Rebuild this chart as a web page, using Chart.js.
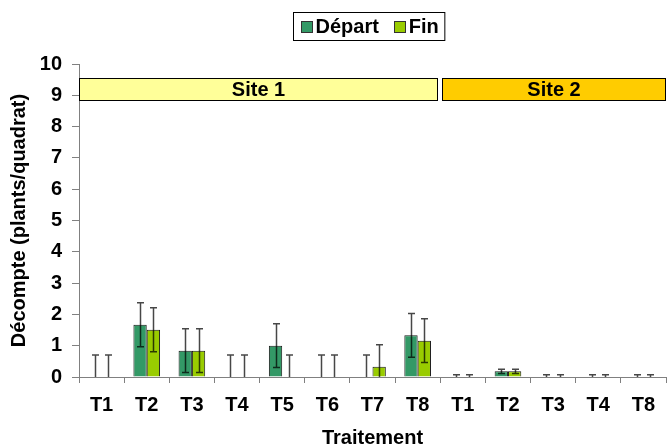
<!DOCTYPE html>
<html lang="fr">
<head>
<meta charset="utf-8">
<title>Décompte par traitement</title>
<script src="https://cdn.jsdelivr.net/npm/chart.js@4/dist/chart.umd.min.js"></script>
<style>
  html, body { margin: 0; padding: 0; background: #ffffff; }
  canvas { display: block; }
</style>
</head>
<body>
<canvas id="chart" width="667" height="446"></canvas>
<script>
// Treatments, site 1 then site 2
const categories = ['T1', 'T2', 'T3', 'T4', 'T5', 'T6', 'T7', 'T8', 'T1', 'T2', 'T3', 'T4', 'T8'];

// Mean counts (plants/quadrat)
const departValues = [0, 1.67, 0.84, 0, 1.00, 0, 0, 1.33, 0, 0.18, 0, 0, 0];
const finValues    = [0, 1.51, 0.84, 0, 0, 0, 0.33, 1.16, 0, 0.18, 0, 0, 0];

// Error half-widths
const departErrors = [0.70, 0.70, 0.70, 0.70, 0.70, 0.70, 0.70, 0.70, 0.07, 0.07, 0.07, 0.07, 0.07];
const finErrors    = [0.70, 0.70, 0.70, 0.70, 0.70, 0.70, 0.70, 0.70, 0.07, 0.07, 0.07, 0.07, 0.07];

const seriesNames = ['Départ', 'Fin'];

// Site groups: first and last category index of each
const siteNames = ['Site 1', 'Site 2'];
const siteFirst = [0, 8];
const siteLast  = [7, 12];
// Vertical extent of the site banners (axis units)
const siteBand = [8.86, 9.56];

const FONT = '"Liberation Sans", Arial, Helvetica, sans-serif';
const COLORS = ['#339966', '#99CC00'];
const SITE_COLORS = ['#FFFF99', '#FFCC00'];
const AXIS_GREY = '#808080';

const errorSets = [departErrors, finErrors];

// Error bars on top of every bar
const errorBars = {
  id: 'errorBars',
  afterDatasetsDraw(chart) {
    const { ctx, scales: { y } } = chart;
    ctx.save();
    ctx.strokeStyle = 'rgba(0,0,0,0.72)';
    ctx.lineWidth = 1.5;
    chart.data.datasets.forEach((ds, i) => {
      const meta = chart.getDatasetMeta(i);
      const errs = errorSets[i];
      meta.data.forEach((bar, j) => {
        const v = ds.data[j];
        const e = errs[j];
        const hi = v + e;
        const lo = Math.max(0, v - e);
        const x = Math.round(bar.x) + 0.5;
        const yHi = y.getPixelForValue(hi);
        const yLo = y.getPixelForValue(lo);
        ctx.beginPath();
        ctx.moveTo(x, yLo);
        ctx.lineTo(x, yHi);
        ctx.moveTo(x - 3.5, yHi);
        ctx.lineTo(x + 3.5, yHi);
        if (lo > 0) {
          ctx.moveTo(x - 3.5, yLo);
          ctx.lineTo(x + 3.5, yLo);
        }
        ctx.stroke();
      });
    });
    ctx.restore();
  }
};

// Site banners across the top of the plot
const siteBanners = {
  id: 'siteBanners',
  afterDatasetsDraw(chart) {
    const { ctx, scales: { x, y } } = chart;
    const step = (x.right - x.left) / categories.length;
    const top = y.getPixelForValue(siteBand[1]);
    const bottom = y.getPixelForValue(siteBand[0]);
    ctx.save();
    siteNames.forEach((name, k) => {
      let left = x.getPixelForValue(siteFirst[k]) - step / 2;
      let right = x.getPixelForValue(siteLast[k]) + step / 2;
      if (k > 0) left += 1.5;
      if (k < siteNames.length - 1) right -= 2.5;
      left = Math.round(left) + 0.5;
      right = Math.round(right) - 0.5;
      ctx.fillStyle = SITE_COLORS[k];
      ctx.fillRect(left, Math.round(top) + 0.5, right - left, Math.round(bottom) - Math.round(top));
      ctx.strokeStyle = '#000000';
      ctx.lineWidth = 1;
      ctx.strokeRect(left, Math.round(top) + 0.5, right - left, Math.round(bottom) - Math.round(top));
      ctx.fillStyle = '#000000';
      ctx.font = 'bold 20px ' + FONT;
      ctx.textAlign = 'center';
      ctx.textBaseline = 'middle';
      ctx.fillText(name, (left + right) / 2, (top + bottom) / 2 + 2);
    });
    ctx.restore();
  }
};

// Boxed legend centred over the plot
const boxedLegend = {
  id: 'boxedLegend',
  afterDraw(chart) {
    const { ctx, chartArea } = chart;
    ctx.save();
    ctx.font = 'bold 20px ' + FONT;
    const sw = 11, padL = 7, padR = 6, gapText = 4, gapItem = 15;
    const items = chart.data.datasets.map((ds) => ({
      label: ds.label, color: ds.backgroundColor, w: ctx.measureText(ds.label).width
    }));
    let total = padL + padR;
    items.forEach((it, i) => { total += sw + gapText + it.w + (i ? gapItem : 0); });
    const boxTop = 12.5, boxH = 28;
    let bx = Math.round((chartArea.left + chartArea.right) / 2 - total / 2) - 3.5;
    ctx.fillStyle = '#ffffff';
    ctx.fillRect(bx, boxTop, total, boxH);
    ctx.strokeStyle = '#000000';
    ctx.lineWidth = 1;
    ctx.strokeRect(bx, boxTop, total, boxH);
    let cx = bx + padL;
    const cy = boxTop + boxH / 2;
    items.forEach((it, i) => {
      if (i) cx += gapItem;
      ctx.fillStyle = it.color;
      ctx.fillRect(Math.round(cx) + 0.5, Math.round(cy - sw / 2) + 0.5, sw, sw);
      ctx.strokeStyle = '#333333';
      ctx.strokeRect(Math.round(cx) + 0.5, Math.round(cy - sw / 2) + 0.5, sw, sw);
      cx += sw + gapText;
      ctx.fillStyle = '#000000';
      ctx.textAlign = 'left';
      ctx.textBaseline = 'middle';
      ctx.fillText(it.label, cx, cy + 1);
      cx += it.w;
    });
    ctx.restore();
  }
};

const tickFont = { family: FONT, size: 20, weight: 'bold' };

new Chart(document.getElementById('chart'), {
  type: 'bar',
  data: {
    labels: categories,
    datasets: [
      {
        label: seriesNames[0],
        data: departValues,
        backgroundColor: COLORS[0],
        borderColor: '#1a1a1a',
        borderWidth: 1,
        categoryPercentage: 0.59,
        barPercentage: 1.0
      },
      {
        label: seriesNames[1],
        data: finValues,
        backgroundColor: COLORS[1],
        borderColor: '#1a1a1a',
        borderWidth: 1,
        categoryPercentage: 0.59,
        barPercentage: 1.0
      }
    ]
  },
  options: {
    responsive: false,
    animation: false,
    events: [],
    layout: { padding: { top: 64, right: 1, left: 0, bottom: 0 } },
    plugins: {
      legend: { display: false },
      tooltip: { enabled: false }
    },
    scales: {
      x: {
        grid: { offset: true, drawOnChartArea: false, drawTicks: true, tickLength: 6, color: AXIS_GREY },
        border: { color: AXIS_GREY, width: 1 },
        ticks: { font: tickFont, color: '#000000', padding: 10, maxRotation: 0, autoSkip: false },
        title: {
          display: true, text: 'Traitement', color: '#000000',
          font: { family: FONT, size: 20, weight: 'bold', lineHeight: 0.8 },
          padding: { top: 0, bottom: 0 }
        },
        afterFit(scale) { scale.height = 69; }
      },
      y: {
        min: 0,
        max: 10,
        grid: { drawOnChartArea: false, drawTicks: true, tickLength: 7, color: AXIS_GREY },
        border: { color: AXIS_GREY, width: 1 },
        ticks: { stepSize: 1, font: tickFont, color: '#000000', padding: 10 },
        title: {
          display: true, text: 'Décompte (plants/quadrat)', color: '#000000',
          font: { family: FONT, size: 20, weight: 'bold', lineHeight: 1 },
          padding: { top: 9, bottom: 0 }
        },
        afterFit(scale) { scale.width = 79; }
      }
    }
  },
  plugins: [siteBanners, errorBars, boxedLegend]
});
</script>
</body>
</html>
